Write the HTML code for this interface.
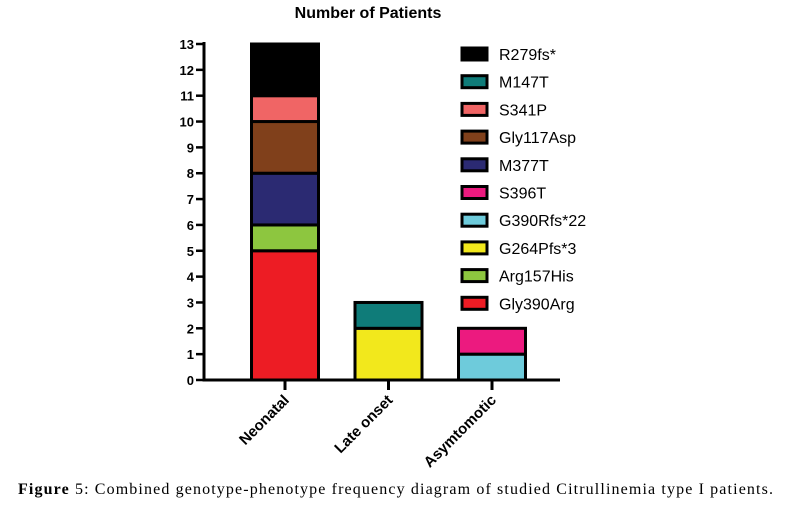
<!DOCTYPE html>
<html><head><meta charset="utf-8"><style>
html,body{margin:0;padding:0;background:#fff;width:785px;height:509px;overflow:hidden}
svg{display:block}
</style></head><body>
<svg id="chart" width="785" height="509" xmlns="http://www.w3.org/2000/svg">
<text x="368" y="18" text-anchor="middle" font-family="Liberation Sans, sans-serif" font-weight="bold" font-size="16">Number of Patients</text>
<g id="yaxis"></g>
<g id="bars"></g>
<g id="xaxis"></g>
<g id="legend"></g>
<text x="18" y="494" font-family="Liberation Serif, serif" font-size="16" textLength="755" lengthAdjust="spacing"><tspan font-weight="bold">Figure</tspan> 5: Combined genotype-phenotype frequency diagram of studied Citrullinemia type I patients.</text>
</svg>
<script>
const categories = ["Neonatal","Late onset","Asymtomotic"];
const seriesNames = ["Gly390Arg","Arg157His","G264Pfs*3","G390Rfs*22","S396T","M377T","Gly117Asp","S341P","M147T","R279fs*"];
const seriesColors = ["#ed1c24","#8dc63f","#f2e81c","#6ecbdb","#ec1a7f","#2b2a72","#80401b","#f06565","#0f7c79","#000000"];
const neonatal = [5,1,0,0,0,2,2,1,0,2];
const lateOnset = [0,0,2,0,0,0,0,0,1,0];
const asymtomotic = [0,0,0,1,1,0,0,0,0,0];
const yTicks = [0,1,2,3,4,5,6,7,8,9,10,11,12,13];
const legendOrder = ["R279fs*","M147T","S341P","Gly117Asp","M377T","S396T","G390Rfs*22","G264Pfs*3","Arg157His","Gly390Arg"];

const NS="http://www.w3.org/2000/svg";
const y0=380, yTop=44, yMax=13, axisX=204, axisRight=560;
const yScale=v=>y0-(y0-yTop)*v/yMax;
const xCenter=i=>285+i*103.5;
const barW=67;
function mk(tag,attrs,parent){const e=document.createElementNS(NS,tag);for(const k in attrs)e.setAttribute(k,attrs[k]);parent.appendChild(e);return e;}

const ya=document.getElementById('yaxis');
let l=mk('line',{x1:axisX,y1:yTop-2,x2:axisX,y2:y0+1.5,stroke:'#000','stroke-width':3},ya);


yTicks.forEach(t=>{
  const y=yScale(t);
  const tk=mk('line',{x1:axisX-8,y1:y,x2:axisX,y2:y,stroke:'#000','stroke-width':2.5},ya);
  
  
  const tx=mk('text',{x:axisX-10,y:y+5,'text-anchor':'end','font-family':'Liberation Sans, sans-serif','font-weight':'bold','font-size':13},ya);
  tx.textContent=t;
  
  
});

const bars=document.getElementById('bars');
const data=[neonatal,lateOnset,asymtomotic];
data.forEach((vals,ci)=>{
  let acc=0;
  vals.forEach((v,si)=>{
    if(!v)return;
    const yA=yScale(acc+v), yB=yScale(acc);
    const r=mk('rect',{x:xCenter(ci)-barW/2,y:yA,width:barW,height:yB-yA,fill:seriesColors[si],stroke:'#000','stroke-width':3},bars);
    
    
    acc+=v;
  });
});

const xa=document.getElementById('xaxis');
l=mk('line',{x1:axisX-1.5,y1:y0,x2:axisRight,y2:y0,stroke:'#000','stroke-width':3},xa);


categories.forEach((c,i)=>{
  const x=xCenter(i);
  const tk=mk('line',{x1:x,y1:y0,x2:x,y2:y0+10,stroke:'#000','stroke-width':3},xa);
  
  
  const tx=mk('text',{x:x+5,y:y0+21,'text-anchor':'end','font-family':'Liberation Sans, sans-serif','font-weight':'bold','font-size':15,transform:`rotate(-45 ${x+5} ${y0+21})`},xa);
  tx.textContent=c;
  
  
});

const lg=document.getElementById('legend');
legendOrder.forEach((n,i)=>{
  const si=seriesNames.indexOf(n);
  const y=54+i*27.7;
  const r=mk('rect',{x:462,y:y-6,width:25,height:12,fill:seriesColors[si],stroke:'#000','stroke-width':3},lg);
  
  
  const t=mk('text',{x:499,y:y+6,'font-family':'Liberation Sans, sans-serif','font-size':16},lg);
  t.textContent=n;
  
  
});
</script>
</body></html>
